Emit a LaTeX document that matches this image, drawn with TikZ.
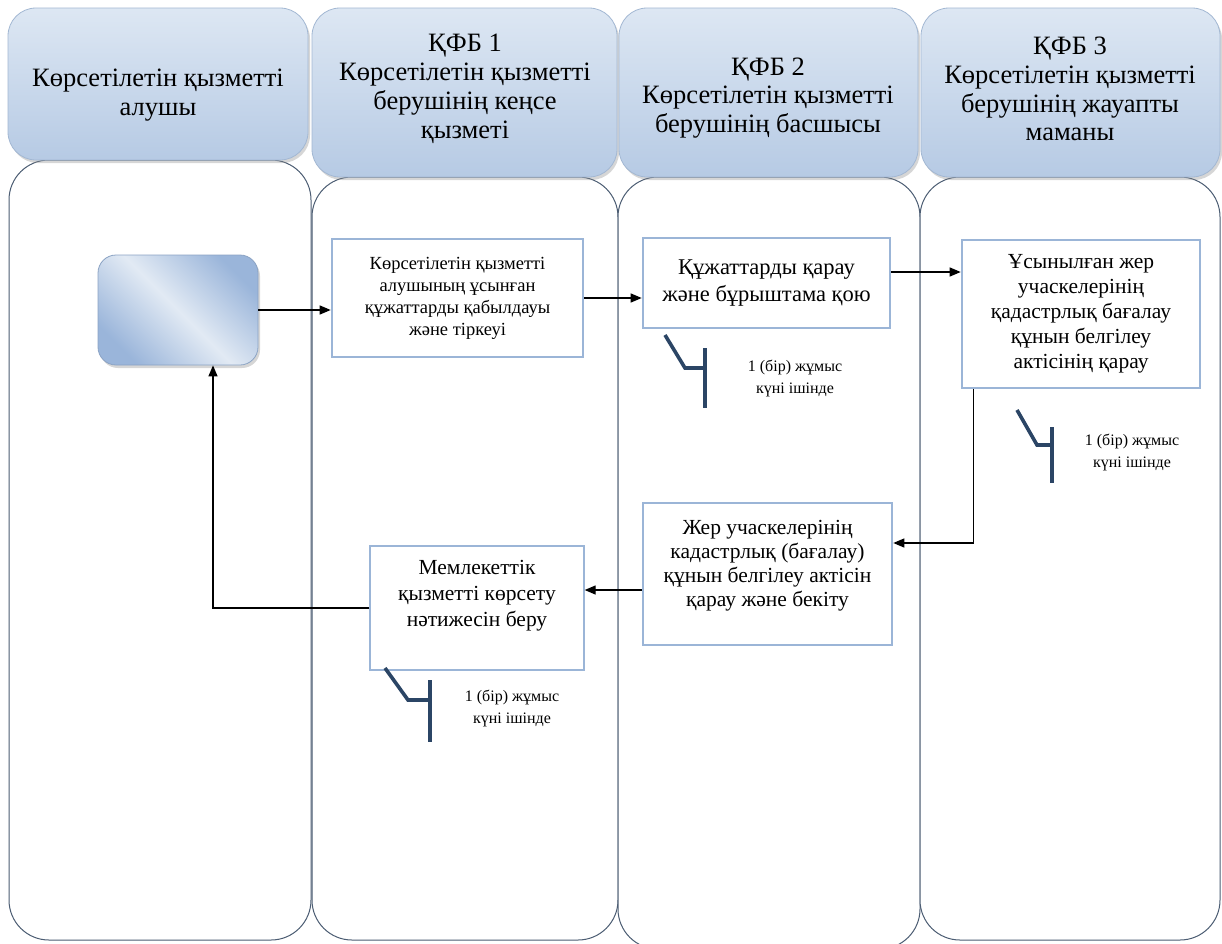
\documentclass[tikz,border=0pt]{standalone}
\usepackage{fontspec}
\setmainfont{Liberation Serif}
\usetikzlibrary{arrows.meta,shadows,calc}
\definecolor{hdrtop}{HTML}{DDE7F3}
\definecolor{hdrbot}{HTML}{B6CAE4}
\definecolor{hdrline}{HTML}{A3B8D3}
\definecolor{laneline}{HTML}{4C5D73}
\definecolor{boxline}{HTML}{9BB5D7}
\definecolor{annotc}{HTML}{2B4565}
\definecolor{startdark}{HTML}{9AB5DA}
\definecolor{startlight}{HTML}{E2EAF4}
\tikzset{
  lane/.style={draw=laneline, line width=1pt, fill=white, rounded corners=40pt, inner sep=0pt},
  hdr/.style={draw=hdrline, line width=0.8pt, top color=hdrtop, bottom color=hdrbot, rounded corners=28pt, inner sep=0pt,
     drop shadow={shadow xshift=2pt, shadow yshift=-3pt, fill=black!45, opacity=0.35}},
  hdrtext/.style={font=\fontsize{26.5}{28.8}\selectfont, align=center, inner sep=0pt},
  pbox/.style={draw=boxline, line width=2.6pt, fill=white, inner sep=0pt, align=center, font=\fontsize{22}{26}\selectfont},
  pboxthin/.style={draw=boxline, line width=1.3pt, fill=white, inner sep=0pt},
  btext/.style={align=center, inner sep=0pt, font=\fontsize{21.5}{24}\selectfont},
  note/.style={align=center, inner sep=0pt, font=\fontsize{16}{22}\selectfont},
  annot/.style={draw=annotc, line width=3.6pt},
  arr/.style={draw=black, line width=1.3pt, -{Triangle[length=11pt,width=9pt]}},
  startbox/.style={draw=startdark!90!black, line width=0.8pt, rounded corners=18pt, inner sep=0pt,
     left color=startdark, right color=startdark, middle color=startlight, shading angle=135,
     drop shadow={shadow xshift=2pt, shadow yshift=-3pt, fill=black!45, opacity=0.35}},
}
\begin{document}
\begin{tikzpicture}[x=1pt,y=-1pt]
\useasboundingbox (0,0) rectangle (1222,943);
\fill[white] (0,0) rectangle (1222,943);
% lanes
\node[lane, minimum width=302pt, minimum height=780pt] (lane0) at (160,550) {};
\node[lane, minimum width=306pt, minimum height=763pt] (lane1) at (465,558.5) {};
\node[lane, minimum width=302pt, minimum height=772pt] (lane2) at (769,563) {};
\node[lane, minimum width=300pt, minimum height=763pt] (lane3) at (1070,558.5) {};
% headers
\node[hdr, minimum width=300pt, minimum height=152pt] (h0) at (158,84) {};
\node[hdr, minimum width=305pt, minimum height=169pt] (h1) at (464.5,92.5) {};
\node[hdr, minimum width=299pt, minimum height=169pt] (h2) at (768.5,92.5) {};
\node[hdr, minimum width=299pt, minimum height=169pt] (h3) at (1070.5,92.5) {};
\node[hdrtext] (h0t) at (158,95) {Көрсетілетін қызметті\\алушы};
\node[hdrtext] (h1t) at (465,89) {ҚФБ 1\\Көрсетілетін қызметті\\берушінің кеңсе\\қызметі};
\node[hdrtext] (h2t) at (768,98) {ҚФБ 2\\Көрсетілетін қызметті\\берушінің басшысы};
\node[hdrtext] (h3t) at (1070,89) {ҚФБ 3\\Көрсетілетін қызметті\\берушінің жауапты\\маманы};
% start box
\node[startbox, minimum width=160pt, minimum height=110pt] (start) at (178,310) {};
% process boxes
\node[pbox, minimum width=251pt, minimum height=118pt, font=\fontsize{18.5}{22}\selectfont] (b1) at (457.5,298) {Көрсетілетін қызметті\\алушының ұсынған\\құжаттарды қабылдауы\\және тіркеуі};
\node[pbox, minimum width=247pt, minimum height=90pt, font=\fontsize{22.5}{27}\selectfont] (b2) at (766.5,283) {Құжаттарды қарау\\және бұрыштама қою};
\node[pbox, minimum width=238pt, minimum height=148pt, font=\fontsize{21.5}{25}\selectfont] (b3) at (1081,314) {Ұсынылған жер\\учаскелерінің\\қадастрлық бағалау\\құнын белгілеу\\актісінің қарау};
\node[pbox, minimum width=249pt, minimum height=142pt] (b4) at (767.5,574) {};
\node[btext] (b4t) at (767.5,566) {Жер учаскелерінің\\кадастрлық (бағалау)\\құнын белгілеу актісін\\қарау және бекіту};
\node[pboxthin, minimum width=214pt, minimum height=124pt] (b5) at (477,608) {};
\node[btext, font=\fontsize{21.5}{26}\selectfont] (b5t) at (477,596) {Мемлекеттік\\қызметті көрсету\\нәтижесін беру};
% connectors
\draw[arr] (start.east) -- (start.east -| b1.west);
\draw[arr] (b1.east) -- (b1.east -| b2.west);
\draw[arr] ([yshift=11pt]b2.east) -- ([yshift=11pt]b2.east -| b3.west);
\draw[arr] ([xshift=13pt]b3.south west) |- ([yshift=31pt]b4.east);
\draw[arr] ([yshift=-16pt]b4.west) -- ([yshift=-16pt]b4.west -| b5.east);
\draw[arr] (b5.west) -| ([xshift=35pt]start.south);
% duration marks
\draw[annot] (665,335) -- (685,368) -- (705,368);
\draw[annot] (705,348) -- (705,408);
\node[note] (n1) at (795,378) {1 (бір) жұмыс\\күні ішінде};
\draw[annot] (1017,410) -- (1037,445) -- (1052,445);
\draw[annot] (1052,427) -- (1052,483);
\node[note] (n2) at (1132,452) {1 (бір) жұмыс\\күні ішінде};
\draw[annot] (385,668) -- (408,700) -- (430,700);
\draw[annot] (430,680) -- (430,742);
\node[note] (n3) at (512,708) {1 (бір) жұмыс\\күні ішінде};
\end{tikzpicture}
\end{document}
